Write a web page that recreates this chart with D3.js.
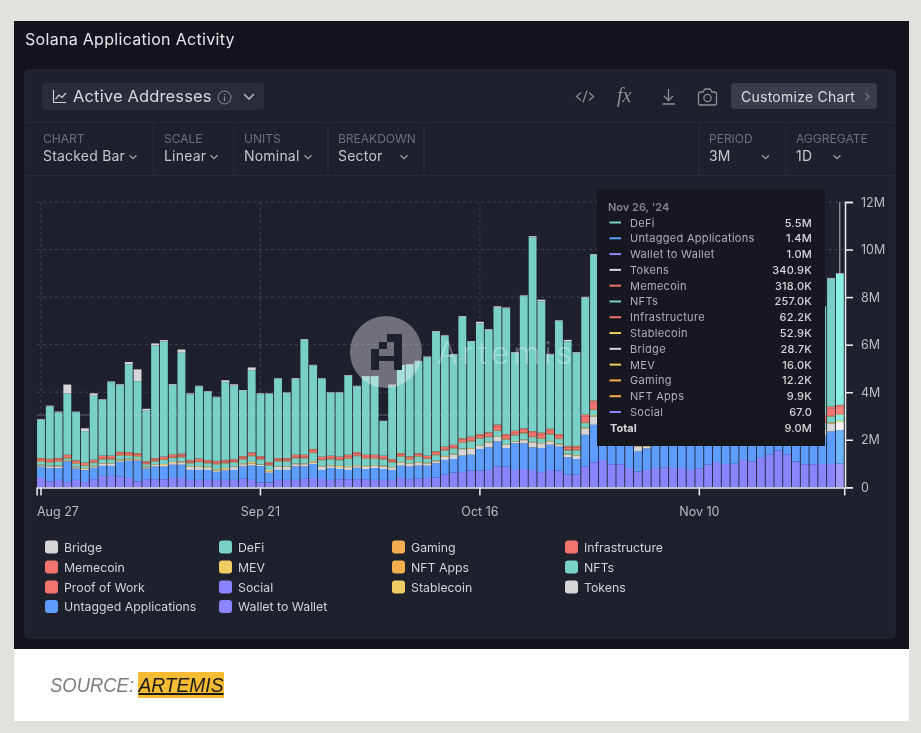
<!DOCTYPE html>
<html>
<head>
<meta charset="utf-8">
<script src="https://cdn.jsdelivr.net/npm/d3@7"></script>
<style>
  html, body { margin: 0; padding: 0; background: #e2e1dd; overflow: hidden; }
  svg { display: block; font-family: Inter, "Noto Sans", sans-serif; filter: blur(0.35px); }
</style>
</head>
<body>
<script>
// values are in millions of addresses, one entry per day from Aug 27 to Nov 26
const wallet = [.39,.25,.31,.22,.31,.22,.34,.48,.48,.45,
  .39,.25,.34,.34,.34,.39,.39,.31,.31,.31,
  .31,.31,.31,.36,.31,.20,.20,.31,.31,.31,
  .36,.39,.35,.31,.34,.34,.34,.34,.31,.31,
  .31,.39,.34,.36,.39,.42,.53,.62,.64,.70,
  .70,.73,.87,.87,.73,.77,.73,.64,.73,.70,
  .53,.53,.87,1.05,1.15,.97,.97,.81,.66,.73,
  .81,.84,.81,.81,.73,.80,.95,1.06,.98,.99,
  1.15,1.09,1.27,1.37,1.55,1.39,1.09,.97,.97,.98,
  .98,1.0]
const untagged = [.48,.56,.50,.87,.48,.50,.48,.42,.42,.62,
  .73,.87,.45,.53,.53,.56,.56,.42,.42,.42,
  .34,.39,.42,.52,.60,.69,.41,.42,.42,.57,
  .52,.59,.38,.50,.43,.39,.48,.43,.50,.46,
  .42,.52,.53,.55,.52,.59,.62,.57,.69,.67,
  .91,.95,1.06,.78,1.12,1.08,.95,1.01,1.06,1.01,
  .73,.66,1.34,1.58,1.0,1.0,1.0,1.0,.85,.9,
  1.1,1.1,1.1,1.15,1.2,1.2,1.1,1.05,1.1,1.1,
  1.0,1.05,.95,.9,.85,.9,1.05,1.1,1.15,1.2,
  1.37,1.4]
const tokens = [.05,.06,.06,.03,.05,.06,.05,.10,.10,.05,
  .04,.04,.05,.07,.07,.07,.09,.13,.13,.09,
  .06,.06,.12,.09,.09,.05,.06,.14,.14,.09,
  .09,.06,.15,.08,.08,.12,.07,.09,.09,.10,
  .09,.12,.11,.12,.09,.08,.14,.19,.27,.25,
  .13,.20,.19,.13,.06,.13,.20,.18,.13,.09,
  .12,.13,.25,.35,.20,.18,.20,.15,.21,.08,
  .20,.18,.20,.20,.18,.20,.20,.18,.20,.20,
  .18,.20,.18,.20,.20,.18,.20,.20,.22,.25,
  .33,.3409]
const stablecoin = [.03,.04,.04,.03,.03,.03,.03,.02,.02,.05,
  .04,.03,.03,.03,.04,.05,.05,.03,.03,.04,
  .05,.05,.02,.04,.07,.02,.06,.02,.02,.03,
  .03,.06,.02,.04,.05,.04,.04,.04,.03,.04,
  .03,.03,.03,.03,.03,.03,.03,.03,.03,.03,
  .03,.03,.03,.03,.03,.03,.03,.03,.03,.03,
  .03,.03,.05,.05,.03,.03,.03,.03,.03,.03,
  .03,.03,.03,.03,.03,.03,.03,.03,.03,.03,
  .03,.03,.03,.03,.03,.03,.03,.03,.03,.03,
  .05,.0529]
const nfts = [.12,.13,.16,.07,.12,.09,.12,.15,.15,.16,
  .12,.10,.10,.12,.17,.16,.17,.12,.17,.15,
  .21,.20,.18,.16,.24,.21,.19,.20,.20,.22,
  .22,.34,.24,.25,.24,.31,.38,.30,.27,.26,
  .20,.23,.15,.22,.16,.23,.23,.22,.24,.28,
  .28,.20,.22,.20,.25,.26,.20,.18,.27,.20,
  .14,.20,.19,.22,.20,.22,.20,.21,.20,.20,
  .20,.22,.20,.20,.21,.20,.20,.22,.20,.20,
  .21,.20,.22,.20,.20,.22,.20,.20,.22,.25,
  .25,.257]
const memecoin = [.07,.07,.07,.07,.05,.05,.05,.07,.07,.07,
  .07,.06,.05,.05,.05,.05,.05,.05,.06,.05,
  .05,.05,.05,.05,.07,.05,.05,.05,.05,.06,
  .06,.08,.06,.06,.06,.08,.08,.08,.08,.07,
  .05,.06,.05,.06,.05,.07,.07,.07,.10,.11,
  .10,.11,.17,.14,.10,.12,.15,.16,.14,.12,
  .10,.10,.26,.30,.12,.12,.13,.12,.12,.12,
  .12,.13,.12,.12,.12,.13,.12,.12,.13,.12,
  .12,.13,.12,.12,.12,.13,.12,.12,.15,.25,
  .32,.318]
const infrastructure = [.05,.05,.05,.04,.05,.05,.05,.05,.05,.05,
  .05,.04,.04,.05,.05,.05,.05,.05,.05,.05,
  .05,.05,.05,.05,.05,.05,.05,.05,.05,.05,
  .05,.05,.05,.05,.05,.05,.05,.05,.05,.05,
  .05,.05,.05,.05,.05,.05,.05,.05,.05,.05,
  .05,.05,.06,.05,.05,.05,.06,.06,.06,.05,
  .05,.05,.06,.06,.05,.05,.05,.05,.05,.05,
  .05,.05,.05,.05,.05,.05,.05,.05,.05,.05,
  .05,.05,.05,.05,.05,.05,.05,.05,.05,.06,
  .06,.0622]
const mev = [.02,.02,.02,.02,.02,.02,.02,.02,.02,.02,
  .02,.02,.02,.02,.02,.02,.02,.02,.02,.02,
  .02,.02,.02,.02,.02,.02,.02,.02,.02,.02,
  .02,.02,.02,.02,.02,.02,.02,.02,.02,.02,
  .02,.02,.02,.02,.02,.02,.02,.02,.02,.02,
  .02,.02,.02,.02,.02,.02,.02,.02,.02,.02,
  .02,.02,.02,.02,.02,.02,.02,.02,.02,.02,
  .02,.02,.02,.02,.02,.02,.02,.02,.02,.02,
  .02,.02,.02,.02,.02,.02,.02,.02,.02,.02,
  .016,.016]
const gaming = [.015,.015,.015,.012,.012,.012,.012,.012,.012,.012,
  .012,.02,.012,.012,.012,.025,.025,.012,.012,.012,
  .012,.012,.012,.012,.012,.012,.012,.012,.012,.012,
  .012,.012,.012,.012,.012,.012,.012,.012,.012,.012,
  .012,.012,.012,.012,.012,.012,.012,.012,.012,.012,
  .012,.012,.012,.012,.012,.012,.012,.012,.012,.012,
  .012,.012,.012,.012,.012,.012,.012,.012,.012,.012,
  .012,.012,.012,.012,.012,.012,.012,.012,.012,.012,
  .012,.012,.012,.012,.012,.012,.012,.012,.012,.012,
  .0122,.0122]
const nftApps = [.01,.01,.01,.01,.01,.01,.01,.01,.01,.01,
  .01,.01,.01,.01,.01,.01,.01,.01,.01,.01,
  .01,.01,.01,.01,.01,.01,.01,.01,.01,.01,
  .01,.01,.01,.01,.01,.01,.01,.01,.01,.01,
  .01,.01,.01,.01,.01,.01,.01,.01,.01,.01,
  .01,.01,.01,.01,.01,.01,.01,.01,.01,.01,
  .01,.01,.01,.01,.01,.01,.01,.01,.01,.01,
  .01,.01,.01,.01,.01,.01,.01,.01,.01,.01,
  .01,.01,.01,.01,.01,.01,.01,.01,.01,.01,
  .0099,.0099]
const defi = [1.60,2.19,1.91,2.57,2.03,1.32,2.69,2.36,3.09,2.81,
  3.69,3.02,2.12,4.73,4.85,2.93,4.25,2.76,3.03,2.88,
  2.67,3.27,3.08,2.75,3.45,2.61,2.87,3.34,2.74,3.19,
  4.83,3.51,3.28,2.65,2.69,3.32,2.77,3.29,3.29,1.45,
  3.09,3.67,3.85,3.86,4.14,5.03,4.65,3.78,5.11,3.99,
  4.64,4.31,4.91,5.29,3.27,5.56,8.15,5.52,3.12,4.75,
  4.39,3.91,4.92,6.13,5.2,4.6,5.0,4.4,3.9,4.3,
  4.8,4.2,5.0,5.3,4.6,4.4,5.1,4.7,4.2,4.9,
  5.4,4.6,4.3,4.8,5.2,4.5,4.9,4.4,4.6,4.52,
  5.38,5.5]
const bridge = [.03,.04,.04,.38,.02,.12,.10,.02,.03,.03,
  .10,.50,.08,.09,.05,.03,.13,.04,.03,.02,
  .03,.08,.06,.03,.12,.03,.02,.02,.02,.03,
  .03,.03,.02,.02,.02,.03,.02,.02,.02,.02,
  .04,.03,.03,.03,.03,.03,.03,.03,.03,.03,
  .08,.03,.06,.03,.03,.03,.05,.07,.03,.03,
  .07,.03,.03,.03,.03,.03,.03,.03,.03,.03,
  .03,.03,.03,.03,.03,.03,.03,.03,.03,.03,
  .03,.03,.03,.03,.03,.03,.03,.03,.03,.03,
  .03,.0287]
const social = [0,0,0,0,0,0,0,0,0,0,0,0,0,0,0,0,0,0,0,0,0,0,0,0,0,0,0,0,0,0,
  0,0,0,0,0,0,0,0,0,0,0,0,0,0,0,0,0,0,0,0,0,0,0,0,0,0,0,0,0,0,
  0,0,0,0,0,0,0,0,0,0,0,0,0,0,0,0,0,0,0,0,0,0,0,0,0,0,0,0,0,0,0,.000067]
const proofOfWork = [0,0,0,0,0,0,0,0,0,0,0,0,0,0,0,0,0,0,0,0,0,0,0,0,0,0,0,0,0,0,
  0,0,0,0,0,0,0,0,0,0,0,0,0,0,0,0,0,0,0,0,0,0,0,0,0,0,0,0,0,0,
  0,0,0,0,0,0,0,0,0,0,0,0,0,0,0,0,0,0,0,0,0,0,0,0,0,0,0,0,0,0,0,0]

const xTickLabels = ['Aug 27', 'Sep 21', 'Oct 16', 'Nov 10']
const yTicks = [0, 2, 4, 6, 8, 10, 12]

const legendNames = ['Bridge', 'DeFi', 'Gaming', 'Infrastructure', 'Memecoin', 'MEV', 'NFT Apps', 'NFTs',
  'Proof of Work', 'Social', 'Stablecoin', 'Tokens', 'Untagged Applications', 'Wallet to Wallet']
const tooltipNames = ['DeFi', 'Untagged Applications', 'Wallet to Wallet', 'Tokens', 'Memecoin', 'NFTs',
  'Infrastructure', 'Stablecoin', 'Bridge', 'MEV', 'Gaming', 'NFT Apps', 'Social']
const tooltipValues = ['5.5M', '1.4M', '1.0M', '340.9K', '318.0K', '257.0K', '62.2K', '52.9K', '28.7K', '16.0K', '12.2K', '9.9K', '67.0']

const colors = {
  'Bridge': '#d6d6d8', 'DeFi': '#78d0c6', 'Gaming': '#f4ae50', 'Infrastructure': '#f2746f',
  'Memecoin': '#f2746f', 'MEV': '#efcc63', 'NFT Apps': '#f4ae50', 'NFTs': '#78d0c6',
  'Proof of Work': '#f2746f', 'Social': '#8b84ff', 'Stablecoin': '#efcc63', 'Tokens': '#d6d6d8',
  'Untagged Applications': '#5c9dff', 'Wallet to Wallet': '#8b84ff'
}

const seriesByName = {
  'Bridge': bridge, 'DeFi': defi, 'Gaming': gaming, 'Infrastructure': infrastructure,
  'Memecoin': memecoin, 'MEV': mev, 'NFT Apps': nftApps, 'NFTs': nfts,
  'Proof of Work': proofOfWork, 'Social': social, 'Stablecoin': stablecoin, 'Tokens': tokens,
  'Untagged Applications': untagged, 'Wallet to Wallet': wallet
}

const m = { width: 921, height: 733 }

const svg = d3.select('body').append('svg')
  .attr('width', m.width)
  .attr('height', m.height)

// page pieces
svg.append('rect').attr('x', 14).attr('y', 21).attr('width', 895).attr('height', 628).attr('fill', '#12131b')
svg.append('rect').attr('x', 14).attr('y', 649).attr('width', 895).attr('height', 72).attr('fill', '#fff')
svg.append('rect').attr('x', 25).attr('y', 70).attr('width', 870).attr('height', 568).attr('rx', 4)
  .attr('fill', '#1e202c').attr('stroke', '#2a2c38')

svg.append('text').attr('x', 25).attr('y', 45).attr('fill', '#e6e6e8')
  .style('font-size', '16px').style('letter-spacing', '0.3px').text('Solana Application Activity')

// header bar
const header = svg.append('g')
header.append('rect').attr('x', 42).attr('y', 83).attr('width', 222).attr('height', 27).attr('rx', 3).attr('fill', '#2a2c39')
header.append('path').attr('d', 'M53.5 90 V102.5 H66 M55.5 99 L59 95 L62 97.5 L66 93')
  .attr('fill', 'none').attr('stroke', '#d0d1d5').attr('stroke-width', 1.2)
header.append('text').attr('x', 73).attr('y', 102).attr('fill', '#d8d9dc')
  .style('font-size', '16.5px').style('letter-spacing', '0.15px').text('Active Addresses')
header.append('circle').attr('cx', 224.5).attr('cy', 97.5).attr('r', 6.5).attr('fill', 'none').attr('stroke', '#85868e')
header.append('path').attr('d', 'M224.5 96.5 V101 M224.5 94 V95').attr('stroke', '#85868e').attr('stroke-width', 1.2)

function chevron(g, cx, cy, w, color, sw) {
  g.append('path').attr('d', `M${cx - w} ${cy - w / 2} L${cx} ${cy + w / 2} L${cx + w} ${cy - w / 2}`)
    .attr('fill', 'none').attr('stroke', color).attr('stroke-width', sw)
}
chevron(header, 249, 96.5, 5, '#b4b5ba', 1.6)

// right hand icons
header.append('path').attr('d', 'M581 92.5 L576.5 96.5 L581 100.5 M589 92.5 L593.5 96.5 L589 100.5 M587 90.5 L583 102.5')
  .attr('fill', 'none').attr('stroke', '#8d8e95').attr('stroke-width', 1.2)
header.append('text').attr('x', 617).attr('y', 102).attr('fill', '#8d8e95')
  .style('font-family', '"Liberation Serif", serif').style('font-style', 'italic').style('font-size', '20px').text('fx')
header.append('path').attr('d', 'M668.5 89 V100 M664 96 L668.5 100.5 L673 96 M662.5 104 H675')
  .attr('fill', 'none').attr('stroke', '#8d8e95').attr('stroke-width', 1.3)
header.append('path').attr('d', 'M698.5 94 Q698.5 92 700.5 92 H703 L705 89 H710 L712 92 H714.5 Q716.5 92 716.5 94 V103 Q716.5 105 714.5 105 H700.5 Q698.5 105 698.5 103 Z')
  .attr('fill', 'none').attr('stroke', '#8d8e95').attr('stroke-width', 1.3)
header.append('circle').attr('cx', 707.5).attr('cy', 98).attr('r', 3.6).attr('fill', 'none').attr('stroke', '#8d8e95').attr('stroke-width', 1.3)
header.append('rect').attr('x', 731).attr('y', 83).attr('width', 146).attr('height', 26).attr('rx', 3).attr('fill', '#3a3c4a')
header.append('text').attr('x', 741).attr('y', 101.5).attr('fill', '#dcdde0').style('font-size', '14px').style('letter-spacing', '0.25px').text('Customize Chart')
header.append('path').attr('d', 'M865.5 93 L869 96.5 L865.5 100').attr('fill', 'none').attr('stroke', '#75767f').attr('stroke-width', 1.2)

// option strip
const optionLines = [153.5, 234, 328, 424, 699, 786]
const options = [
  { label: 'CHART', value: 'Stacked Bar', x: 43, chev: 133 },
  { label: 'SCALE', value: 'Linear', x: 164, chev: 214 },
  { label: 'UNITS', value: 'Nominal', x: 244, chev: 308 },
  { label: 'BREAKDOWN', value: 'Sector', x: 338, chev: 404 },
  { label: 'PERIOD', value: '3M', x: 709, chev: 765.5 },
  { label: 'AGGREGATE', value: '1D', x: 796, chev: 837 }
]
const strip = svg.append('g')
strip.selectAll('.h').data([122.5, 175.5]).enter().append('line')
  .attr('x1', 25).attr('x2', 895).attr('y1', d => d).attr('y2', d => d).attr('stroke', '#2a2c38')
strip.selectAll('.v').data(optionLines).enter().append('line')
  .attr('x1', d => d).attr('x2', d => d).attr('y1', 122).attr('y2', 175).attr('stroke', '#2a2c38')
options.forEach(function(o) {
  strip.append('text').attr('x', o.x).attr('y', 143).attr('fill', '#6d6f7a').style('font-size', '12px').text(o.label)
  strip.append('text').attr('x', o.x).attr('y', 161).attr('fill', '#c6c7cb').style('font-size', '14px').style('letter-spacing', '0.2px').text(o.value)
  chevron(strip, o.chev, 157, 3.5, '#a0a1a7', 1.2)
})

// chart data
const dates = d3.timeDay.range(new Date(2024, 7, 27), new Date(2024, 10, 27))
const table = dates.map(function(d, i) {
  const row = { date: d }
  legendNames.forEach(function(name) { row[name] = seriesByName[name][i] })
  return row
})

const x = d3.scaleBand().domain(dates).range([36.6, 844.2]).paddingInner(0.1).paddingOuter(0.05)
const y = d3.scaleLinear().domain([0, 12]).range([487.3, 202])

// stack goes up in reverse alphabetical order
const stack = d3.stack().keys(legendNames.slice().reverse())
const layers = stack(table)

const parseTick = d3.timeParse('%b %d %Y')
const tickDates = xTickLabels.map(t => parseTick(t + ' 2024'))
const lastDate = dates[dates.length - 1]

const grid = svg.append('g')
grid.selectAll('.gh').data(yTicks.slice(1)).enter().append('line')
  .attr('x1', 37).attr('x2', 845).attr('y1', d => y(d)).attr('y2', d => y(d))
  .attr('stroke', '#3f424f').attr('stroke-dasharray', '3,3')
grid.selectAll('.gv').data(tickDates).enter().append('line')
  .attr('x1', d => x(d) + x.bandwidth() / 2).attr('x2', d => x(d) + x.bandwidth() / 2)
  .attr('y1', 202).attr('y2', 487).attr('stroke', '#3f424f').attr('stroke-dasharray', '3,3')

// hover crosshair, behind the bars
svg.append('line').attr('x1', 37).attr('x2', 845).attr('y1', 415).attr('y2', 415).attr('stroke', '#5f606a')

const bars = svg.append('g')
layers.forEach(function(layer) {
  bars.append('g')
    .selectAll('rect')
    .data(layer)
    .enter()
    .append('rect')
      .attr('x', d => x(d.data.date))
      .attr('width', x.bandwidth())
      .attr('y', d => y(d[1]))
      .attr('height', d => y(d[0]) - y(d[1]))
      .attr('fill', d => d.data.date.getTime() === lastDate.getTime() ? d3.color(colors[layer.key]).brighter(0.4) : colors[layer.key])
})

// watermark
const mark = svg.append('g')
mark.append('circle').attr('cx', 386).attr('cy', 352).attr('r', 36).attr('fill', '#fff').attr('opacity', 0.36)
const logoCells = [[371, 349, 8, 21], [379, 342, 8, 7], [387, 334, 15, 8], [394, 342, 8, 28], [379, 356, 15, 5]]
mark.selectAll('.logo').data(logoCells).enter().append('rect')
  .attr('x', d => d[0]).attr('y', d => d[1]).attr('width', d => d[2]).attr('height', d => d[3]).attr('fill', '#1e202c')
mark.append('text').attr('x', 437).attr('y', 363.5).attr('fill', '#fff').attr('opacity', 0.3)
  .style('font-size', '31px').style('font-weight', 300).attr('textLength', 135).text('Artemis')

// axes
const xAxis = svg.append('g').attr('transform', 'translate(0,487.5)')
  .call(d3.axisBottom(x).tickValues(tickDates).tickSize(8).tickPadding(12).tickFormat(d3.timeFormat('%b %d')))
const yAxis = svg.append('g').attr('transform', 'translate(845,0)')
  .call(d3.axisRight(y).tickValues(yTicks).tickSize(8).tickPadding(8).tickFormat(d => d === 0 ? '0' : d + 'M'))
;[xAxis, yAxis].forEach(function(a) {
  a.selectAll('path').attr('stroke', '#f0f0f2').attr('stroke-width', 1.5)
  a.selectAll('line').attr('stroke', '#f0f0f2').attr('stroke-width', 1.5)
  a.selectAll('text').attr('fill', '#b9bbc1').style('font-size', '12.5px').style('font-family', 'Inter, sans-serif')
})
// first date label sits to the right of its tick
xAxis.select('.tick text').attr('text-anchor', 'start').attr('x', -4)

// hover line on the last bar
const lastX = x(lastDate) + x.bandwidth() / 2
svg.append('line').attr('x1', lastX).attr('x2', lastX).attr('y1', 202).attr('y2', y(d3.sum(legendNames, n => seriesByName[n][91])))
  .attr('stroke', '#b8b9bd')

// tooltip
const tip = svg.append('g')
tip.append('rect').attr('x', 597).attr('y', 190).attr('width', 228).attr('height', 256).attr('fill', '#17181f')
tip.append('text').attr('x', 608).attr('y', 211).attr('fill', '#85868d')
  .style('font-size', '11px').style('font-weight', 600).text("Nov 26, '24")
const rowY = d3.scalePoint().domain(tooltipNames).range([222.5, 412])
const tipRows = tip.selectAll('.row').data(tooltipNames).enter().append('g')
tipRows.append('line').attr('x1', 609.5).attr('x2', 621).attr('y1', d => rowY(d)).attr('y2', d => rowY(d))
  .attr('stroke', d => colors[d]).attr('stroke-width', 2)
tipRows.append('text').attr('x', 630).attr('y', d => rowY(d) + 4).attr('fill', '#aeafb4')
  .style('font-size', '11px').style('letter-spacing', '0.3px').text(d => d)
tipRows.append('text').attr('x', 812).attr('y', d => rowY(d) + 4).attr('fill', '#d6d7da').attr('text-anchor', 'end')
  .style('font-size', '11px').style('font-weight', 500).style('letter-spacing', '0.2px').text((d, i) => tooltipValues[i])
tip.append('text').attr('x', 610).attr('y', 432).attr('fill', '#d6d7da').style('font-size', '11px').style('font-weight', 700).text('Total')
tip.append('text').attr('x', 812).attr('y', 432).attr('fill', '#d6d7da').attr('text-anchor', 'end')
  .style('font-size', '11px').style('font-weight', 500).style('letter-spacing', '0.2px').text('9.0M')

// legend, four columns filled row by row
const legendX = [45, 219, 392, 565]
const legendY = [547, 567, 587, 606.5]
const legend = svg.selectAll('.legend').data(legendNames).enter().append('g')
  .attr('transform', (d, i) => `translate(${legendX[i % 4]},${legendY[Math.floor(i / 4)]})`)
legend.append('rect').attr('y', -6.5).attr('width', 13).attr('height', 13).attr('rx', 3).attr('fill', d => colors[d])
legend.append('text').attr('x', 19).attr('y', 4.5).attr('fill', '#d2d3d6').style('font-size', '12.3px').text(d => d)

// source line
svg.append('rect').attr('x', 138).attr('y', 672).attr('width', 86).attr('height', 26).attr('fill', '#f4bb33')
svg.append('text').attr('x', 50).attr('y', 692).attr('fill', '#7d7d7d').attr('textLength', 84).attr('lengthAdjust', 'spacingAndGlyphs')
  .style('font-family', '"Liberation Sans", sans-serif').style('font-style', 'italic').style('font-size', '20px').text('SOURCE:')
svg.append('text').attr('x', 138.5).attr('y', 692).attr('fill', '#1a1a1a').attr('textLength', 85).attr('lengthAdjust', 'spacingAndGlyphs')
  .style('font-family', '"Liberation Sans", sans-serif').style('font-style', 'italic').style('font-size', '20px')
  .style('text-decoration', 'underline').text('ARTEMIS')
</script>
</body>
</html>
